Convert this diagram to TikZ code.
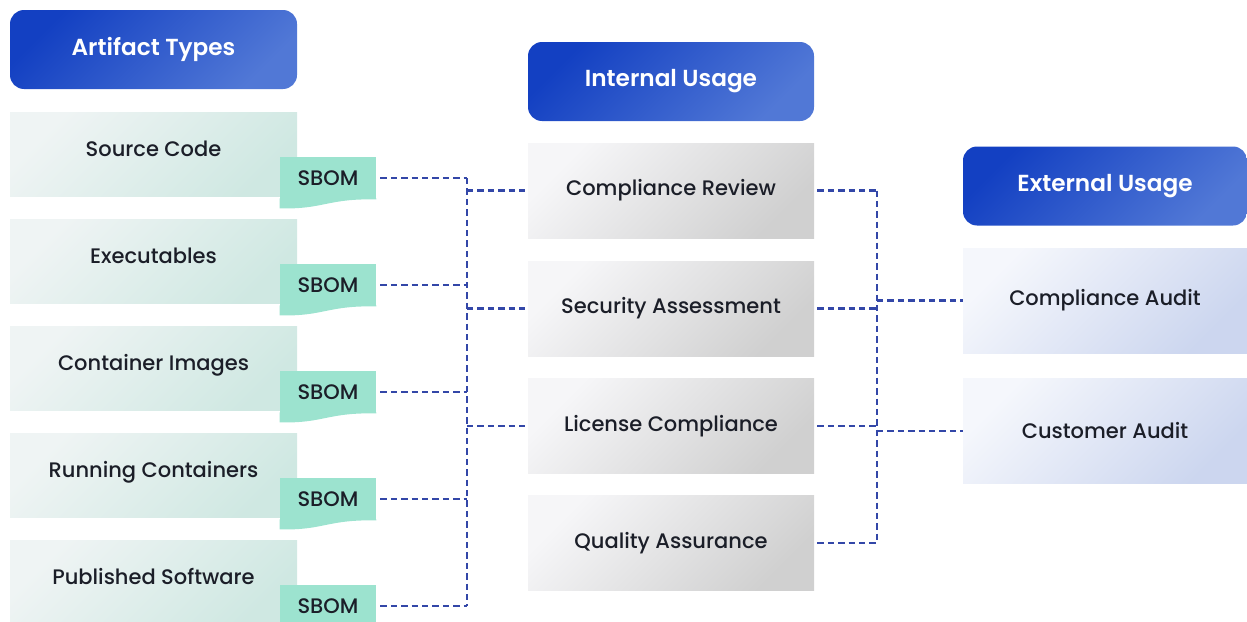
\documentclass[tikz,border=0pt]{standalone}
\usepackage{fontspec}
\setmainfont{Poppins}
\newfontfamily\headfont{Poppins}[UprightFont=* SemiBold]
\newfontfamily\labelfont{Poppins}[UprightFont=* Medium]
\usetikzlibrary{calc}
\definecolor{hdark}{HTML}{1340C2}
\definecolor{hlight}{HTML}{5178D6}
\definecolor{artleft}{HTML}{EFF4F4}
\definecolor{artright}{HTML}{CFE8E2}
\definecolor{tagfill}{HTML}{9CE3CF}
\definecolor{useleft}{HTML}{F6F6F8}
\definecolor{useright}{HTML}{D0D0D0}
\definecolor{audleft}{HTML}{F5F7FC}
\definecolor{audright}{HTML}{CCD6EF}
\definecolor{ink}{HTML}{1B1E28}
\definecolor{linkblue}{HTML}{3347A8}
\newcommand{\bodyfont}{\labelfont\fontsize{10.5}{12}\selectfont}
\tikzstyle{header} = [rectangle, rounded corners=7pt, top color=hdark, bottom color=hlight, shading angle=45, text=white, font={\headfont\fontsize{11.6}{14}\selectfont}, minimum height=39.5pt]
\tikzstyle{artifact} = [rectangle, top color=artleft, bottom color=artright, shading angle=45, text=ink, font=\bodyfont, text height=7.5pt, text depth=5pt, minimum width=143.5pt, minimum height=42pt]
\tikzstyle{sbom} = [rectangle, fill=tagfill, text=ink, font=\bodyfont, minimum width=48pt, minimum height=21pt, inner sep=0pt]
\tikzstyle{usage} = [rectangle, top color=useleft, bottom color=useright, shading angle=45, text=ink, font=\bodyfont, minimum width=143pt, minimum height=47.5pt]
\tikzstyle{audit} = [rectangle, top color=audleft, bottom color=audright, shading angle=45, text=ink, font=\bodyfont, minimum width=142pt, minimum height=52.5pt]
\tikzstyle{dotline} = [draw=linkblue, line width=1.4pt, dash pattern=on 3.2pt off 2pt]

\begin{document}
\begin{tikzpicture}[x=0.5pt, y=-0.5pt]
      \useasboundingbox (0,0) rectangle (1247,621);
      \node [header, minimum width=143.5pt] (arthead) at (153.5,49.5) {Artifact Types};
      \node [header, minimum width=143pt] (inthead) at (671,81.5) {Internal Usage};
      \node [header, minimum width=142pt] (exthead) at (1105,186) {External Usage};

      \node [artifact] (source) at (153.5,154) {Source Code};
      \node [artifact] (exec) at (153.5,261) {Executables};
      \node [artifact] (images) at (153.5,368) {Container Images};
      \node [artifact] (running) at (153.5,475) {Running Containers};
      \node [artifact] (published) at (153.5,582) {Published Software};

      \node [sbom] (sb1) at (328,178) {SBOM};
      \node [sbom] (sb2) at (328,285) {SBOM};
      \node [sbom] (sb3) at (328,392) {SBOM};
      \node [sbom] (sb4) at (328,499) {SBOM};
      \node [sbom] (sb5) at (328,606) {SBOM};
      \foreach \t in {sb1,sb2,sb3,sb4,sb5}
        \fill [tagfill] ($(\t.south west)+(0,-1)$) -- ($(\t.south east)+(0,-1)$)
          -- (\t.south east) .. controls +(-50,-1) and +(45,1) .. ($(\t.south west)+(0,9)$) -- cycle;

      \node [usage] (review) at (671,190.5) {Compliance Review};
      \node [usage] (security) at (671,308.5) {Security Assessment};
      \node [usage] (license) at (671,426) {License Compliance};
      \node [usage] (quality) at (671,543) {Quality Assurance};

      \node [audit] (compaudit) at (1105,300.5) {Compliance Audit};
      \node [audit] (custaudit) at (1105,431) {Customer Audit};

      \coordinate (lbus) at (467,0);
      \coordinate (rbus) at (877,0);
      \foreach \t in {sb1,sb2,sb3,sb4,sb5}
        \path [dotline, shorten <=2pt] (\t.east) -- (\t.east -| lbus);
      \path [dotline] (sb1.east -| lbus) -- (sb5.east -| lbus);
      \foreach \u in {review,security,license}
        \path [dotline] (\u.west -| lbus) -- (\u.west);
      \foreach \u in {review,security,license,quality}
        \path [dotline, shorten <=1.5pt] (\u.east) -- (\u.east -| rbus);
      \path [dotline] (review.east -| rbus) -- (quality.east -| rbus);
      \path [dotline] (compaudit.west -| rbus) -- (compaudit.west);
      \path [dotline] (custaudit.west -| rbus) -- (custaudit.west);
    \end{tikzpicture}
\end{document}
